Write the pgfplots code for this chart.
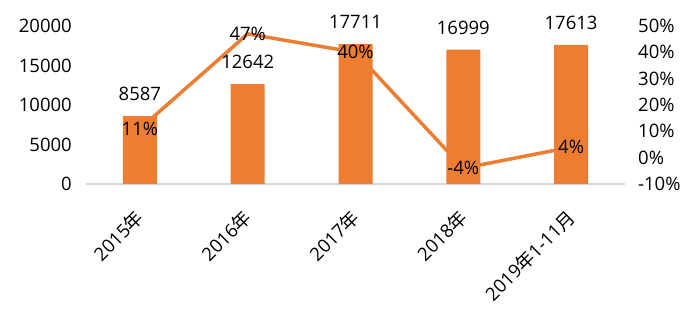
\documentclass[border=0pt]{standalone}
\usepackage{fontspec}
\setmainfont{Open Sans}
\newfontfamily\cjk{Noto Sans CJK SC}
\usepackage{pgfplots}
\pgfplotsset{compat=1.18}
\definecolor{barorange}{HTML}{ED7D31}
\definecolor{axgray}{HTML}{D9D9D9}
\newcommand{\lbl}{\fontsize{18.5bp}{21bp}\selectfont}
\begin{document}
\begin{tikzpicture}
\path[use as bounding box] (-86bp,-131bp) rectangle (614bp,184bp);
\pgfplotsset{
  common/.style={
    scale only axis, width=539bp, height=158bp,
    xmin=-0.5, xmax=4.5, enlargelimits=false, clip=false,
    major tick length=0pt, scaled y ticks=false,
    tick label style={font=\lbl, inner sep=0pt, text=black},
  }
}
% line on right axis (drawn first, behind bars)
\begin{axis}[common, ymin=-10, ymax=50,
  axis y line*=right, axis x line=none,
  y axis line style={draw=none},
  ytick={-10,0,...,50},
  yticklabels={-10\%,0\%,10\%,20\%,30\%,40\%,50\%},
  yticklabel style={anchor=west, xshift=13bp}]
\addplot[barorange, line width=3.5bp, line join=round] coordinates {(0,11) (1,47) (2,40) (3,-4) (4,4)};
\end{axis}
% bars on left axis
\begin{axis}[common, ymin=0, ymax=20000,
  axis y line*=left, axis x line*=bottom,
  y axis line style={draw=none},
  x axis line style={-, axgray, line width=1.3bp},
  ytick={0,5000,...,20000},
  yticklabels={0,5000,10000,15000,20000},
  yticklabel style={anchor=east, xshift=-14bp},
  xtick={0,1,2,3,4},
  xticklabels={2015{\cjk 年},2016{\cjk 年},2017{\cjk 年},2018{\cjk 年},2019{\cjk 年}1-11{\cjk 月}},
  xticklabel style={anchor=north east, xshift=-6bp, yshift=-24bp, rotate=45}]
\addplot[ybar, bar width=34bp, fill=barorange, draw=none] coordinates {(0,8587) (1,12642) (2,17711) (3,16999) (4,17613)};
\addplot[draw=none, nodes near coords, point meta=explicit symbolic,
  every node near coord/.append style={anchor=center, yshift=22bp, font=\lbl, text=black}]
  coordinates {(0,8587)[8587] (1,12642)[12642] (2,17711)[17711] (3,16999)[16999] (4,17613)[17613]};
\end{axis}
% percentage labels on top
\begin{axis}[common, ymin=-10, ymax=50, hide axis]
\addplot[draw=none, nodes near coords, point meta=explicit symbolic,
  every node near coord/.append style={anchor=center, font=\lbl, text=black}]
  coordinates {(0,11)[11\%] (1,47)[47\%] (2,40)[40\%] (3,-4)[-4\%] (4,4)[4\%]};
\end{axis}
\end{tikzpicture}
\end{document}
